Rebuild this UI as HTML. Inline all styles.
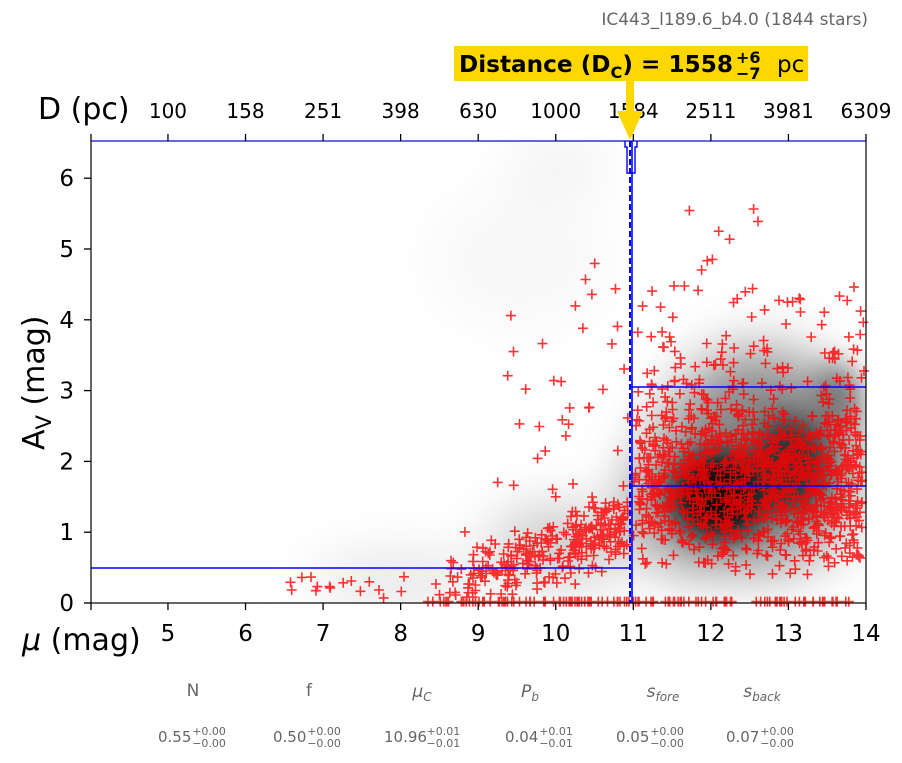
<!DOCTYPE html>
<html><head><meta charset="utf-8"><style>
body{margin:0;background:#fff;width:902px;height:759px;overflow:hidden;font-family:"DejaVu Sans","Liberation Sans",sans-serif}
</style></head><body>
<svg id="s" width="902" height="759" xmlns="http://www.w3.org/2000/svg" font-family="DejaVu Sans, Liberation Sans, sans-serif">
<defs>
<filter id="bl" x="-50%" y="-50%" width="200%" height="200%"><feGaussianBlur stdDeviation="28"/></filter>
<filter id="bl2" x="-50%" y="-50%" width="200%" height="200%"><feGaussianBlur stdDeviation="14"/></filter>
<clipPath id="cp"><rect x="91" y="141" width="775" height="462"/></clipPath>
</defs>
<text x="868" y="25" font-size="17" fill="#666" text-anchor="end">IC443_l189.6_b4.0 (1844 stars)</text>
<g clip-path="url(#cp)">
<g filter="url(#bl)">
<ellipse cx="760" cy="460" rx="100" ry="110" fill="#888"/>
<ellipse cx="700" cy="500" rx="70" ry="70" fill="#888"/>
<ellipse cx="560" cy="545" rx="70" ry="35" fill="#c4c4c4"/>
<ellipse cx="400" cy="580" rx="90" ry="20" fill="#ddd"/>
<ellipse cx="520" cy="260" rx="90" ry="70" fill="#f8f8f8"/>
<ellipse cx="560" cy="165" rx="50" ry="20" fill="#ececec"/>
</g>
<g filter="url(#bl2)">
<ellipse cx="720" cy="495" rx="50" ry="45" fill="#111"/>
<ellipse cx="790" cy="465" rx="40" ry="50" fill="#333"/>
<ellipse cx="835" cy="400" rx="25" ry="35" fill="#777"/>
</g>
</g>
<g id="pts" stroke="#f00" stroke-opacity="0.8" stroke-width="1.6"></g>
<g stroke="#00f" stroke-width="1.6" fill="none">
<line x1="91" y1="568" x2="630" y2="568"/>
<line x1="631" y1="387" x2="866" y2="387"/>
<line x1="631" y1="486" x2="866" y2="486"/>
<line x1="632" y1="141" x2="632" y2="603"/>
<line x1="630" y1="141" x2="630" y2="603" stroke-dasharray="6,3" stroke-width="2"/>
<path d="M625 141 L625 147 L627 147 L627 173 L635 173 L635 147 L637 147 L637 141" stroke-width="1.4"/>
</g>
<rect x="91" y="141" width="775" height="462" fill="none" stroke="#000" stroke-width="1.2"/>
<line x1="91" y1="141" x2="866" y2="141" stroke="#00f" stroke-width="1"/>
<g id="ax" font-size="20"></g>
<text x="38" y="119" font-size="30">D (pc)</text>
<text x="22" y="650" font-size="30"><tspan font-style="italic">μ</tspan> (mag)</text>
<text transform="translate(44,450) rotate(-90)" font-size="30">A<tspan font-size="21" dy="7">V</tspan><tspan dy="-7"> (mag)</tspan></text>
<rect x="454" y="46" width="354" height="35" fill="#FFD700"/>
<text x="459" y="72" font-size="23" font-weight="bold" textLength="274" lengthAdjust="spacingAndGlyphs">Distance (D<tspan font-size="16" dy="6">C</tspan><tspan dy="-6">) = 1558</tspan></text>
<text x="736" y="63" font-size="16" font-weight="bold">+6</text>
<text x="736" y="79" font-size="16" font-weight="bold">−7</text>
<text x="777" y="72" font-size="23">pc</text>
<rect x="626" y="81" width="8" height="30" fill="#FFD700"/>
<polygon points="617,111 643,111 630,140" fill="#FFD700"/>
<g font-size="17" fill="#666" text-anchor="middle">
<text x="193" y="696">N</text><text x="309" y="696">f</text>
<text x="422" y="697" font-style="italic">μ<tspan font-size="12" dy="4">C</tspan></text>
<text x="530" y="697" font-style="italic">P<tspan font-size="12" dy="4">b</tspan></text>
<text x="663" y="697" font-style="italic">s<tspan font-size="12" dy="4">fore</tspan></text>
<text x="762" y="697" font-style="italic">s<tspan font-size="12" dy="4">back</tspan></text>
</g>
<g id="vals" font-size="15" fill="#666"></g>
</svg>
<script>
var NS="http://www.w3.org/2000/svg";
function X(m){return 90.4+77.56*(m-4);}function Y(a){return 603-70.8*a;}
var ax=document.getElementById('ax'),h='';
var D=['100','158','251','398','630','1000','1584','2511','3981','6309'];
for(var m=5;m<=14;m++){var x=X(m);
h+='<line x1="'+x+'" y1="603" x2="'+x+'" y2="610" stroke="#000" stroke-width="1.3"/>';
h+='<text x="'+x+'" y="641" text-anchor="middle" font-size="23">'+m+'</text>';
h+='<line x1="'+x+'" y1="134" x2="'+x+'" y2="141" stroke="#000" stroke-width="1.3"/>';
h+='<text x="'+x+'" y="118" text-anchor="middle">'+D[m-5]+'</text>';}
h+='<line x1="91" y1="134" x2="91" y2="141" stroke="#000" stroke-width="1.3"/>';
h+='<line x1="91" y1="603" x2="91" y2="610" stroke="#000" stroke-width="1.3"/>';
for(var a=0;a<=6;a++){var y=Y(a);
h+='<line x1="84" y1="'+y+'" x2="91" y2="'+y+'" stroke="#000" stroke-width="1.3"/>';
h+='<text x="74" y="'+(y+8)+'" text-anchor="end" font-size="23">'+a+'</text>';}
ax.innerHTML=h;
var vals=[['0.55','+0.00','−0.00',158],['0.50','+0.00','−0.00',273],['10.96','+0.01','−0.01',384],['0.04','+0.01','−0.01',505],['0.05','+0.00','−0.00',616],['0.07','+0.00','−0.00',726]];
h='';vals.forEach(function(v){var w=v[0].length*8.3+1;
h+='<text x="'+v[3]+'" y="742">'+v[0]+'</text>';
h+='<text x="'+(v[3]+w)+'" y="735" font-size="11">'+v[1]+'</text>';
h+='<text x="'+(v[3]+w)+'" y="747" font-size="11">'+v[2]+'</text>';});
document.getElementById('vals').innerHTML=h;
var s=12345;function r(){s=(s*16807)%2147483647;return s/2147483647;}
function n(){return Math.sqrt(-2*Math.log(r()+1e-9))*Math.cos(6.283*r());}
h='';function p(m,a){if(m<4||m>14||a<0||a>6.5)return;var x=X(m),y=Y(a);h+='M'+(x-5).toFixed(1)+' '+y.toFixed(1)+'h10M'+x.toFixed(1)+' '+(y-5).toFixed(1)+'v10';}
for(var i=0;i<300;i++){var m=8.6+2.35*Math.pow(r(),0.7);var a=0.3+0.35*(m-8.6)+0.22*n();if(a<0.05)a=0.05+0.15*r();p(m,a);}
for(var i=0;i<20;i++){p(6.5+2.5*r(),0.03+0.35*r());}
for(var i=0;i<35;i++){p(9+2*r(),1.5+3.3*r());}
for(var i=0;i<1150;i++){var m=11+2.95*Math.pow(r(),0.9);var a=1.75+0.65*n();if(a<0.4)a=0.4+r()*0.6;p(m,a);}
for(var i=0;i<70;i++){p(11+3*r(),3+1.5*r());}
for(var i=0;i<8;i++){p(11.5+1.5*r(),4.5+1.2*r());}
for(var i=0;i<130;i++){p(8.3+5.5*r(),0.02);}
var g=document.createElementNS(NS,'path');g.setAttribute('d',h);g.setAttribute('fill','none');
document.getElementById('pts').appendChild(g);
</script>
</body></html>
